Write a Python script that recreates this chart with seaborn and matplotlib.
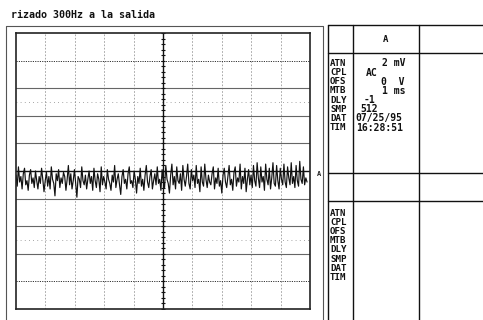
import numpy as np
import pandas as pd
import matplotlib
matplotlib.use("Agg")
import matplotlib.pyplot as plt
from matplotlib.lines import Line2D
import seaborn as sns

# ---------------- data ----------------
title = "rizado 300Hz a la salida"
channel = "A"
param_labels = ["ATN", "CPL", "OFS", "MTB", "DLY", "SMP", "DAT", "TIM"]
param_values = ["2 mV", "AC", "0  V", "1 ms", "-1", "512", "07/25/95", "16:28:51"]
time_span_ms = 10.0      # 1 ms/div x 10 div
volts_per_div_mv = 2.0   # 2 mV/div
trace_mv = [
    -0.3, -1.1, 0.3, -0.8, -0.4, -1.3, -0.2, 0.2, -1.0, -0.7, -1.4, -0.3, 0.1, -0.9, -0.5, -1.2, 0.0, -0.7, -1.3, -0.4,
    -0.9, 0.2, -0.6, -1.5, -0.7, -0.1, -1.1, -0.4, -1.3, 0.3, -0.6, -0.9, -1.8, -0.2, -0.7, 0.1, -1.2, -0.5, -0.9, -0.1,
    -0.4, -1.4, -0.6, 0.4, -1.0, -0.2, -1.3, -0.7, 0.1, -0.9, -1.9, -0.4, -0.6, -1.2, 0.3, -0.7, -1.0, -0.3, -1.3, -0.6,
    0.0, -0.9, -0.4, -1.4, 0.2, -0.7, -1.2, -0.2, -0.6, -1.5, 0.3, -1.0, -0.4, -0.8, -1.3, 0.1, -0.6, -0.9, -1.4, -0.3,
    -0.8, 0.4, -1.2, -0.6, -0.2, -1.0, -1.7, -0.4, 0.1, -0.9, -0.6, -1.3, -0.2, 0.3, -0.9, -0.7, -1.2, 0.0, -0.6, -1.6,
    -0.4, -0.9, 0.2, -1.1, -0.6, -1.4, -0.3, 0.4, -0.8, -1.2, -0.4, 0.1, -1.3, -0.7, -0.2, -1.0, 0.3, -0.9, -0.6, -1.4,
    0.1, -0.8, -1.2, 0.4, -0.6, -0.9, -1.6, -0.3, 0.5, -1.0, -0.4, -1.3, 0.3, -0.7, -0.9, -0.2, -1.4, 0.4, -0.6, -1.1,
    -0.4, 0.5, -0.9, -1.3, 0.1, -0.7, -0.3, -1.2, 0.4, -0.9, -0.6, -1.5, 0.3, -0.8, -1.1, 0.5, -0.6, -1.2, -0.3, -0.8,
    -1.0, -0.2, 0.3, -1.3, -0.5, -0.9, 0.2, -1.1, -0.7, -1.6, -0.3, 0.2, -0.8, -1.2, -0.4, 0.4, -1.0, -0.6, -1.4, -0.1,
    0.3, -1.1, -0.5, -0.8, 0.5, -1.3, -0.4, -0.9, 0.2, -1.5, -0.6, 0.1, -1.0, -0.3, -1.2, 0.4, -0.7, -1.1, 0.6, -0.5,
    -1.2, 0.3, -0.8, -0.4, -1.4, 0.5, -0.6, -1.0, 0.2, -1.3, -0.5, 0.6, -0.9, -1.1, 0.4, -0.7, -1.3, 0.2, -0.6, -1.0,
    0.5, -0.8, -1.2, 0.3, -0.5, -1.0, 0.6, -0.9, -0.4, -1.2, 0.4, -0.7, -1.1, 0.7, -0.6, -0.9, 0.3, -1.0, -0.5, -0.8,
]

df = pd.DataFrame({
    "t": np.linspace(0, time_span_ms * 0.99, len(trace_mv)),
    "v": trace_mv,
})

# ---------------- figure ----------------
sns.set_style("white")
plt.rcParams["font.family"] = ["DejaVu Sans Mono"]
W, H = 483, 320
fig = plt.figure(figsize=(W / 100, H / 100), dpi=100)

def px_axes(x0, y0, x1, y1):
    return fig.add_axes([x0 / W, 1 - y1 / H, (x1 - x0) / W, (y1 - y0) / H])

# overlay axes in pixel coordinates for frames / panel
ov = fig.add_axes([0, 0, 1, 1])
ov.set_xlim(0, W)
ov.set_ylim(H, 0)
ov.axis("off")

# title
ov.text(11, 15, title, fontsize=7.2, fontweight="bold", va="center", ha="left", color="#111")

# outer frame around scope screen
ov.add_line(Line2D([6, 6, 323, 323], [322, 26, 26, 322], color="#555", lw=0.8))

# main scope axes
ax = px_axes(16, 33, 310, 309)
half = 5 * volts_per_div_mv
ax.set_xlim(0, time_span_ms)
ax.set_ylim(-half, half)

# grid: vertical dashed light grey
for i in range(1, 10):
    if i == 5:
        continue
    ax.axvline(i, color="#999", lw=0.6, ls=(0, (2, 2)))
# horizontal lines
for j in range(-4, 5):
    y = j * volts_per_div_mv
    if j == 0:
        ax.axhline(y, color="#111", lw=1.0)
    elif abs(j) == 4:
        ax.axhline(y, color="#333", lw=0.7, ls=(0, (1.2, 1.2)))
    else:
        ax.axhline(y, color="#666", lw=0.8)
# scan artifact dotted rows
ax.axhline(2.5 * volts_per_div_mv, color="#888", lw=0.6, ls=(0, (1, 4)))
ax.axhline(-2.5 * volts_per_div_mv, color="#888", lw=0.6, ls=(0, (1, 4)))

# center vertical crosshair with ticks
ax.axvline(5, color="#111", lw=1.0)
tick_y = np.arange(-half, half + 0.01, volts_per_div_mv / 5)
ax.plot(np.full_like(tick_y, 5.0), tick_y, ls="none", marker="_", ms=3.5, mew=0.8, color="#111")

# trace
sns.lineplot(data=df, x="t", y="v", ax=ax, color="#111", lw=0.85)

ax.set_xticks([])
ax.set_yticks([])
ax.set_xlabel("")
ax.set_ylabel("")
for s in ax.spines.values():
    s.set_visible(True)
    s.set_color("#222")
    s.set_linewidth(1.2)

# channel marker
ov.text(317, 174, channel, fontsize=5, fontweight="bold", va="center", ha="left", color="#222")

# ---------------- right info panel ----------------
lk = dict(color="#111", lw=1.0)
ov.add_line(Line2D([328, 328], [25, 322], **lk))
ov.add_line(Line2D([353, 353], [25, 322], **lk))
ov.add_line(Line2D([419, 419], [25, 322], **lk))
ov.add_line(Line2D([328, 483], [25, 25], **lk))
ov.add_line(Line2D([328, 483], [53, 53], **lk))
ov.add_line(Line2D([328, 483], [173, 173], **lk))
ov.add_line(Line2D([328, 483], [201, 201], **lk))

ov.text(386, 39, channel, fontsize=6.5, fontweight="bold", ha="center", va="center", color="#111")

row0, step = 63.3, 9.2
value_x = [382, 366, 381, 382, 364, 360, 355, 356]
for i, (lab, val) in enumerate(zip(param_labels, param_values)):
    y = row0 + i * step
    ov.text(330, y, lab, fontsize=6.6, fontweight="bold", ha="left", va="center", color="#111")
    ov.text(value_x[i], y, val, fontsize=7, fontweight="bold", ha="left", va="center", color="#111")

row1 = 213
for i, lab in enumerate(param_labels):
    y = row1 + i * step
    ov.text(330, y, lab, fontsize=6.6, fontweight="bold", ha="left", va="center", color="#111")

fig.savefig("out.png", dpi=100)
